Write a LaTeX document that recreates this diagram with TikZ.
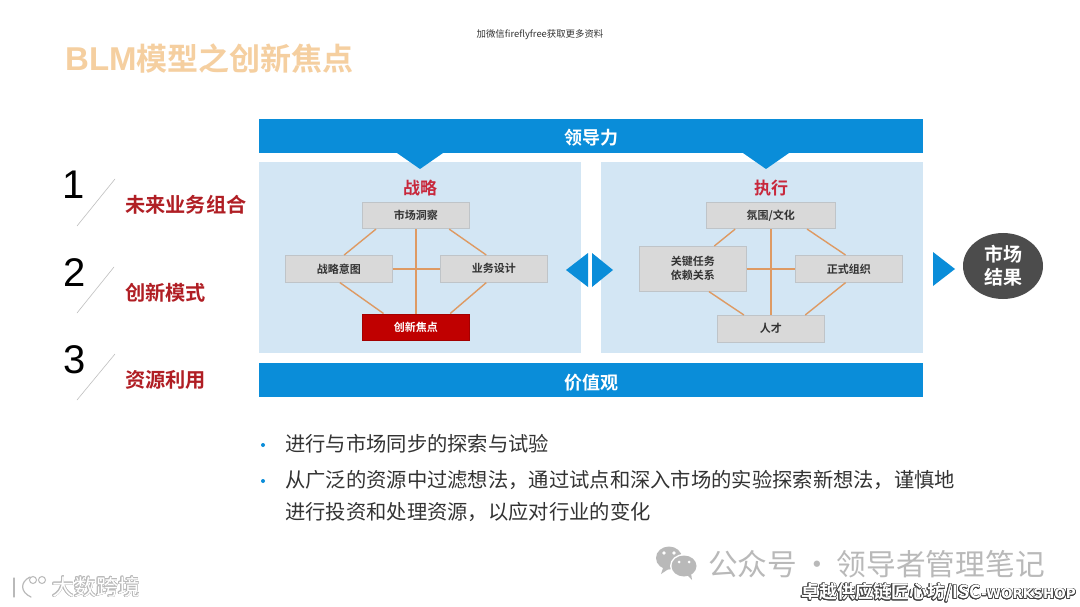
\documentclass[tikz,border=0pt]{standalone}
\usepackage{fontspec}
\usepackage[copies]{contour}
\setmainfont{Liberation Sans}
\newfontfamily\cjk{Noto Sans CJK SC}
\newfontfamily\cjkb{Noto Sans CJK SC Bold}
\newfontfamily\wide{DejaVu Sans Bold}
\usetikzlibrary{calc,shapes.geometric}
\definecolor{barblue}{HTML}{0A8DD9}
\definecolor{panelblue}{HTML}{D3E6F4}
\definecolor{boxgrey}{HTML}{D9D9D9}
\definecolor{boxedge}{HTML}{BFC4C8}
\definecolor{linkorange}{HTML}{DE9A63}
\definecolor{darkred}{HTML}{B01E24}
\definecolor{boxred}{HTML}{C00000}
\definecolor{titleorange}{HTML}{F5CFA0}
\definecolor{marktext}{HTML}{B9B9B9}
\definecolor{headred}{HTML}{C8283C}
\contourlength{0.55pt}
\tikzset{
  box/.style={draw=boxedge,line width=.6pt,fill=boxgrey,anchor=north west,inner sep=0pt,align=center,
    font=\cjkb\fontsize{11}{14}\selectfont,text=black!80},
  bar/.style={fill=barblue,anchor=north west,inner sep=0pt,text=white,text height=17.6pt,text depth=0pt,font=\cjkb\fontsize{18}{20}\selectfont},
  panel/.style={fill=panelblue,anchor=north west,inner sep=0pt},
  link/.style={draw=linkorange,line width=1.4pt},
  tri/.style={fill=barblue},
  heading/.style={font=\cjkb\fontsize{17}{18}\selectfont,text=headred},
  num/.style={font=\fontsize{40}{40}\selectfont,text=black},
  slash/.style={draw=black!25,line width=.6pt},
  focus/.style={font=\cjkb\fontsize{20.2}{22}\selectfont,text=darkred,anchor=west,inner sep=0pt},
  bullet/.style={font=\cjk\fontsize{20.3}{32}\selectfont,text=black!80,anchor=north west,inner sep=0pt,align=left},
  dotb/.style={fill=barblue,circle,inner sep=0pt,minimum size=4pt}
}
\begin{document}
\begin{tikzpicture}[x=1pt,y=-1pt]
\useasboundingbox (0,0) rectangle (1080,607);
\fill[white] (0,0) rectangle (1080,607);
% top note + title
\node[inner sep=0pt,font=\cjk\fontsize{9.4}{10}\selectfont,text=black!80] (note) at (540,35) {加微信fireflyfree获取更多资料};
\node[inner sep=0pt,anchor=west,font=\cjkb\fontsize{31}{34}\selectfont,text=titleorange] (title) at (65,59) {{\bfseries\fontspec{Liberation Sans Bold}\fontsize{33}{34}\selectfont BLM}模型之创新焦点};
% panels
\node[panel,minimum width=322pt,minimum height=191pt] (pl) at (259,162) {};
\node[panel,minimum width=322pt,minimum height=191pt] (pr) at (601,162) {};
% bars
\node[bar,minimum width=664pt,minimum height=34pt] (lead) at (259,119) {领导力};
\node[bar,minimum width=664pt,minimum height=34pt] (value) at (259,363) {价值观};
\fill[tri] (397,153) -- (443,153) -- (420,169) -- cycle;
\fill[tri] (743,153) -- (789,153) -- (766,169) -- cycle;
% headings
\node[heading] (hs) at (420,188) {战略};
\node[heading] (he) at (771,188) {执行};
% strategy boxes
\node[box,minimum width=107pt,minimum height=26.5pt] (s1) at (362,202) {市场洞察};
\node[box,minimum width=107pt,minimum height=27pt] (s2) at (285,255) {战略意图};
\node[box,minimum width=107pt,minimum height=27pt] (s3) at (440,255) {业务设计};
\node[box,draw=boxred!85!black,fill=boxred,text=white,minimum width=107pt,minimum height=26.5pt] (s4) at (362,313.5) {创新焦点};
% strategy links
\draw[link] (s1.south) -- (s4.north);
\draw[link] (s2.east) -- (s3.west);
\draw[link] ($(s1.south west)!.13!(s1.south east)$) -- ($(s2.north west)!.55!(s2.north east)$);
\draw[link] ($(s1.south west)!.81!(s1.south east)$) -- ($(s3.north west)!.43!(s3.north east)$);
\draw[link] ($(s2.south west)!.51!(s2.south east)$) -- ($(s4.north west)!.2!(s4.north east)$);
\draw[link] ($(s3.south west)!.43!(s3.south east)$) -- ($(s4.north west)!.82!(s4.north east)$);
% execution boxes
\node[box,minimum width=129pt,minimum height=26.5pt] (e1) at (706,202) {氛围/文化};
\node[box,minimum width=107pt,minimum height=45pt] (e2) at (639,246) {关键任务\\依赖关系};
\node[box,minimum width=107pt,minimum height=27pt] (e3) at (795,255) {正式组织};
\node[box,minimum width=107pt,minimum height=27pt] (e4) at (717,315) {人才};
% execution links
\draw[link] (e1.south) -- (e4.north);
\draw[link] (e2.east) -- (e3.west);
\draw[link] ($(e1.south west)!.225!(e1.south east)$) -- ($(e2.north west)!.70!(e2.north east)$);
\draw[link] ($(e1.south west)!.78!(e1.south east)$) -- ($(e3.north west)!.47!(e3.north east)$);
\draw[link] ($(e2.south west)!.65!(e2.south east)$) -- ($(e4.north west)!.25!(e4.north east)$);
\draw[link] ($(e3.south west)!.47!(e3.south east)$) -- ($(e4.north west)!.82!(e4.north east)$);
% middle arrows
\fill[tri] (566,270) -- (588,253) -- (588,287) -- cycle;
\fill[tri] (592,253) -- (613,270) -- (592,287) -- cycle;
\fill[tri] (933,252) -- (955,269) -- (933,286) -- cycle;
% result
\node[ellipse,fill=black!70,minimum width=80pt,minimum height=66pt,inner sep=0pt,align=center,text=white,
  font=\cjkb\fontsize{19}{23}\selectfont] (res) at (1003,266) {市场\\结果};
% left list
\node[num] (n1) at (74,185) {1};
\node[num] (n2) at (75,273) {2};
\node[num] (n3) at (75,360) {3};
\coordinate (a1) at (115,179); \coordinate (b1) at (77,226);
\coordinate (a2) at (114,267); \coordinate (b2) at (77,313);
\coordinate (a3) at (115,354); \coordinate (b3) at (77,400);
\draw[slash] (a1) -- (b1);
\draw[slash] (a2) -- (b2);
\draw[slash] (a3) -- (b3);
\node[focus] (f1) at (125,205) {未来业务组合};
\node[focus] (f2) at (125,293) {创新模式};
\node[focus] (f3) at (125,380) {资源利用};
% bullets
\node[dotb] (d1) at (263,445) {};
\node[dotb] (d2) at (263,481) {};
\node[bullet] (t1) at (285,434) {进行与市场同步的探索与试验};
\node[bullet] (t2) at (285,470) {从广泛的资源中过滤想法，通过试点和深入市场的实验探索新想法，谨慎地\\进行投资和处理资源，以应对行业的变化};
% watermarks
\fill[marktext] (669,558) ellipse (13pt and 11.5pt);
\fill[marktext] (661,574) -- (664,565) -- (670,568) -- cycle;
\fill[white] (684,566) ellipse (14pt and 12pt);
\fill[marktext] (684,566) ellipse (12.5pt and 10.5pt);
\fill[marktext] (692,580) -- (686,574) -- (691,573) -- cycle;
\fill[white] (664,553) circle (1.8pt) (674,553) circle (1.8pt) (679,562) circle (1.5pt) (689,562) circle (1.5pt);
\node[inner sep=0pt,anchor=west,font=\cjk\fontsize{29.7}{30}\selectfont,text=marktext] (w1) at (708,564) {公众号\,·\,领导者管理笔记};
\node[inner sep=0pt,anchor=east,font=\cjkb\fontsize{18}{18}\selectfont] (w2) at (1076,593) {\contour{black!75}{\textcolor{white}{卓越供应链匠心坊/ISC}}\contour{black!75}{\textcolor{white}{\wide\fontsize{13.5}{14}\selectfont -WORKSHOP}}};
\contourlength{0.4pt}
\node[inner sep=0pt,anchor=west,font=\cjk\fontsize{22}{24}\selectfont] (w3) at (52,587) {\contour{marktext}{\textcolor{white}{大数跨境}}};
\draw[marktext,line width=1.2pt,line cap=round] (14,578) -- (14,597);
\draw[marktext,line width=1.2pt,line cap=round] (30,577) .. controls (20,582) and (20,592) .. (31,597);
\draw[marktext,line width=1pt] (33,580) circle (3.5pt) (42,580) circle (3.5pt);
\end{tikzpicture}
\end{document}
